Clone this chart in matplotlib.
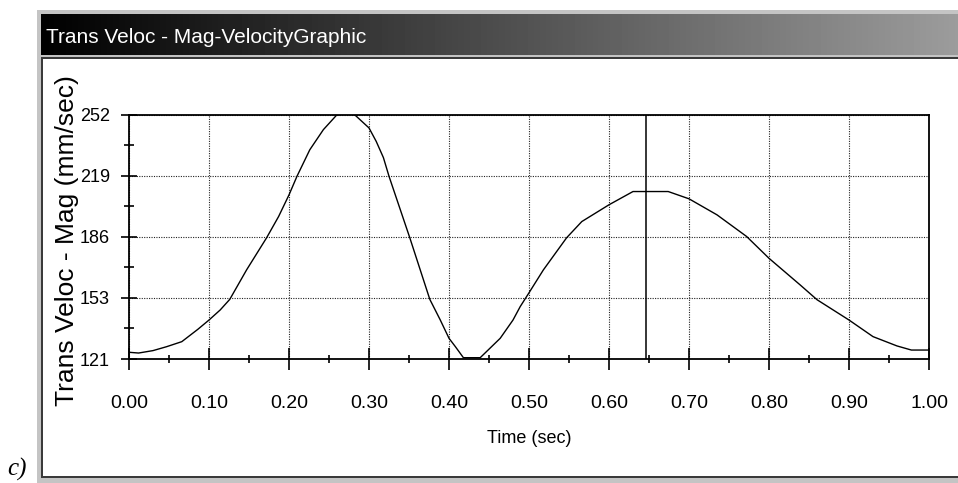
import numpy as np
import matplotlib
matplotlib.use("Agg")
import matplotlib.pyplot as plt
from matplotlib.patches import Rectangle
from matplotlib.ticker import MultipleLocator, FixedLocator

# values
time_s = [0.000, 0.012, 0.030, 0.047, 0.066, 0.086, 0.100, 0.114, 0.126, 0.147,
          0.172, 0.187, 0.200, 0.210, 0.226, 0.243, 0.260, 0.271, 0.282, 0.300,
          0.309, 0.318, 0.325, 0.351, 0.376, 0.389, 0.400, 0.408, 0.418, 0.439,
          0.464, 0.480, 0.489, 0.500, 0.518, 0.547, 0.566, 0.600, 0.630, 0.674,
          0.700, 0.735, 0.772, 0.800, 0.839, 0.860, 0.900, 0.930, 0.960, 0.978,
          1.000]
velocity = [124.6, 124.2, 125.5, 127.6, 130.3, 136.9, 141.9, 147.3, 153.0, 168.8,
            186.0, 197.4, 209.0, 219.0, 233.2, 244.0, 252.0, 252.3, 252.0, 244.9,
            237.7, 229.0, 219.0, 186.0, 153.0, 142.0, 132.1, 127.6, 121.7, 121.7,
            132.1, 141.9, 149.1, 156.5, 168.8, 186.0, 194.7, 203.7, 210.8, 210.8,
            206.9, 198.3, 186.7, 175.0, 160.7, 152.8, 141.9, 133.0, 128.0, 125.8,
            125.8]
cursor_t = 0.646

x_ticks = [0.0, 0.1, 0.2, 0.3, 0.4, 0.5, 0.6, 0.7, 0.8, 0.9, 1.0]
x_tick_labels = ["0.00", "0.10", "0.20", "0.30", "0.40", "0.50",
                 "0.60", "0.70", "0.80", "0.90", "1.00"]
y_ticks = [121.0, 153.75, 186.5, 219.25, 252.0]
y_tick_labels = ["121", "153", "186", "219", "252"]

title = "Trans Veloc - Mag-VelocityGraphic"
ylabel = "Trans Veloc - Mag (mm/sec)"
xlabel = "Time (sec)"

W, H = 958, 483
SANS = "Liberation Sans"

fig = plt.figure(figsize=(W / 100, H / 100), dpi=100)
fig.patch.set_facecolor("white")

# window chrome, drawn in pixel coords
bg = fig.add_axes([0, 0, 1, 1])
bg.axis("off")
bg.add_patch(Rectangle((37, 10), W - 37, H - 10, color="#c4c4c4", lw=0))
bg.add_patch(Rectangle((41, 57), W - 41, 421, color="#3a3a3a", lw=0))
bg.add_patch(Rectangle((43, 59), W - 43, 417, color="white", lw=0))
grad = np.linspace(0.0, 0.61, 256)[None, :]
bg.imshow(grad, cmap="gray", vmin=0, vmax=1, aspect="auto", zorder=3,
          extent=(41, W, 55, 14), interpolation="bilinear")
bg.set_xlim(0, W)
bg.set_ylim(H, 0)

fig.text(46 / W, 1 - 43 / H, title, color="white", fontsize=15,
         family=SANS, va="baseline", ha="left")
fig.text(7 / W, 1 - 476 / H, "c)", fontsize=18, family="Liberation Serif",
         style="italic", va="baseline", ha="left")

# the chart itself
left, right, top, bottom = 129, 929, 114.7, 359
ax = fig.add_axes([left / W, 1 - bottom / H, (right - left) / W, (bottom - top) / H])
ax.set_facecolor("white")

ax.plot(time_s, velocity, color="black", lw=1.0)
ax.axvline(cursor_t, color="black", lw=1.1)

ax.set_xlim(0, 1)
ax.set_ylim(y_ticks[0], y_ticks[-1])
ax.set_xticks(x_ticks)
ax.set_xticklabels(x_tick_labels)
ax.set_yticks(y_ticks)
ax.set_yticklabels(y_tick_labels)
ax.xaxis.set_minor_locator(MultipleLocator(0.05))
y_minor = (np.array(y_ticks[:-1]) + np.array(y_ticks[1:])) / 2
ax.yaxis.set_minor_locator(FixedLocator(y_minor))

ax.grid(True, which="major", color="#222222", lw=0.8, linestyle=(0, (1, 1.2)))

for s in ax.spines.values():
    s.set_linewidth(1.3)

ax.tick_params(axis="x", which="major", direction="inout", length=16.5, width=1.2,
               pad=17.5, labelsize=14)
ax.tick_params(axis="x", which="minor", direction="inout", length=6, width=1.2)
ax.tick_params(axis="y", which="major", direction="inout", length=12, width=1.2,
               pad=7.7, labelsize=13)
ax.tick_params(axis="y", which="minor", direction="inout", length=7, width=1.2)
for lab in ax.get_xticklabels() + ax.get_yticklabels():
    lab.set_family(SANS)

ax.set_xlabel(xlabel, fontsize=13, family=SANS, labelpad=13)
ax.set_ylabel(ylabel, fontsize=19, family=SANS)
ax.yaxis.label.set_va("center")
ax.yaxis.set_label_coords((67 - left) / (right - left), (bottom - 241) / (bottom - top))

fig.savefig("out.png", dpi=100)
